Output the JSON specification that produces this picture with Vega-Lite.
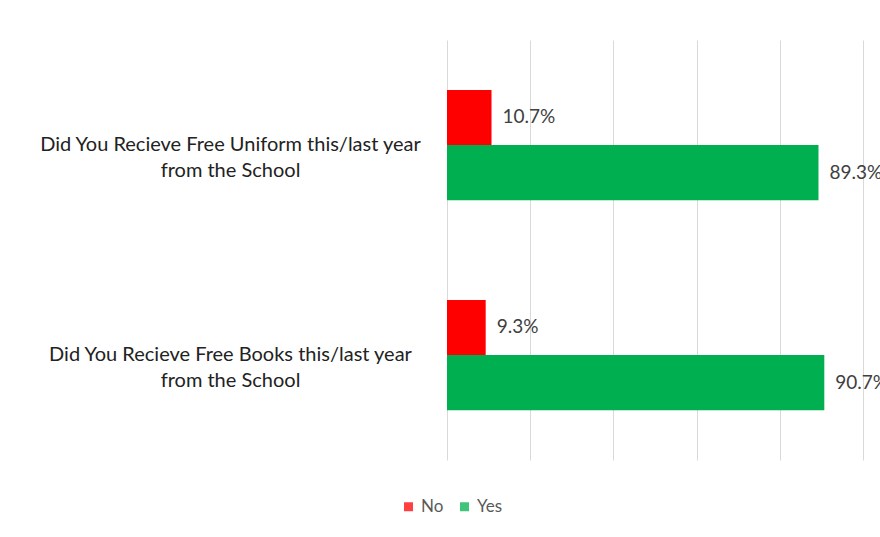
{
  "$schema": "https://vega.github.io/schema/vega-lite/v6.json",
  "autosize": {"type": "none"},
  "width": 416,
  "height": 420,
  "padding": {"left": 447, "top": 40, "right": 17, "bottom": 77},
  "background": "white",
  "config": {
    "font": "Lato",
    "view": {"stroke": null}
  },
  "data": {
    "values": [
      {"question": "Did You Recieve Free Uniform this/last year from the School", "response": "No", "share": 0.107},
      {"question": "Did You Recieve Free Uniform this/last year from the School", "response": "Yes", "share": 0.893},
      {"question": "Did You Recieve Free Books this/last year from the School", "response": "No", "share": 0.093},
      {"question": "Did You Recieve Free Books this/last year from the School", "response": "Yes", "share": 0.907}
    ]
  },
  "encoding": {
    "y": {
      "field": "question",
      "type": "nominal",
      "sort": null,
      "scale": {"paddingInner": 0.475, "paddingOuter": 0.2375},
      "axis": {
        "title": null,
        "ticks": false,
        "domain": false,
        "labelAlign": "center",
        "labelBaseline": "middle",
        "labelPadding": 217,
        "labelLimit": 500,
        "labelFontSize": 20,
        "labelLineHeight": 26,
        "labelColor": "#222222",
        "labelExpr": "[slice(datum.label, 0, indexof(datum.label, ' from')), slice(datum.label, indexof(datum.label, ' from') + 1)]"
      }
    },
    "yOffset": {"field": "response", "type": "nominal", "sort": ["No", "Yes"], "scale": {"paddingInner": 0}},
    "x": {
      "field": "share",
      "type": "quantitative",
      "scale": {"domain": [0, 1], "nice": false},
      "axis": {
        "title": null,
        "values": [0, 0.2, 0.4, 0.6, 0.8, 1.0],
        "labels": false,
        "ticks": false,
        "domain": false,
        "grid": true,
        "gridColor": "#d9d9d9",
        "gridWidth": 1
      }
    }
  },
  "layer": [
    {
      "mark": {"type": "bar"},
      "encoding": {
        "color": {
          "field": "response",
          "type": "nominal",
          "sort": ["No", "Yes"],
          "scale": {"domain": ["No", "Yes"], "range": ["#FF0000", "#00B050"]},
          "legend": {
            "title": null,
            "orient": "none",
            "direction": "horizontal",
            "legendX": -47,
            "legendY": 458,
            "symbolType": "square",
            "symbolSize": 81,
            "symbolStrokeWidth": 0,
            "symbolOpacity": 0.75,
            "labelFontSize": 17,
            "labelColor": "#595959",
            "columnPadding": 12,
            "padding": 0
          }
        }
      }
    },
    {
      "mark": {"type": "text", "align": "left", "baseline": "middle", "dx": 11, "fontSize": 19, "color": "#404040"},
      "encoding": {
        "text": {"field": "share", "type": "quantitative", "format": ".1%"}
      }
    }
  ]
}
